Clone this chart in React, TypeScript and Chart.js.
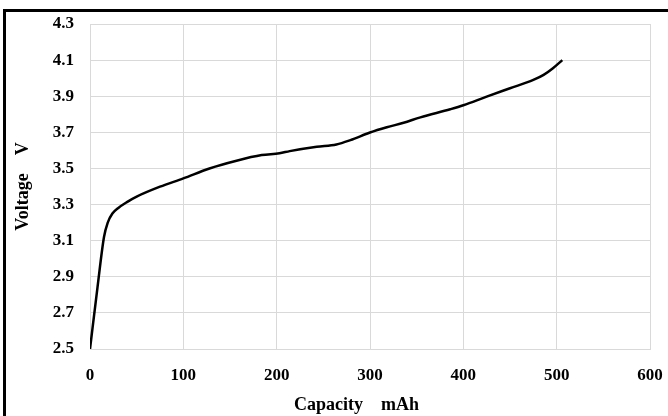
import React, { useEffect, useRef } from "react";
import { Chart, registerables } from "chart.js";

Chart.register(...registerables);

const capacity = [0, 8, 15, 19, 24, 30, 40, 50, 75, 100, 128, 157, 184, 203, 214, 243, 264, 279, 300, 318, 336, 354, 386, 400, 425, 450, 475, 486, 496, 506];
const voltage = [2.5, 2.84, 3.12, 3.2, 3.25, 3.28, 3.315, 3.344, 3.399, 3.445, 3.5, 3.543, 3.574, 3.584, 3.596, 3.62, 3.633, 3.657, 3.699, 3.728, 3.753, 3.783, 3.828, 3.85, 3.898, 3.944, 3.99, 4.018, 4.055, 4.1];
const xTickValues = [0, 100, 200, 300, 400, 500, 600];
const yTickValues = [2.5, 2.7, 2.9, 3.1, 3.3, 3.5, 3.7, 3.9, 4.1, 4.3];
const xTitle = "Capacity    mAh      ";
const yTitle = "Voltage    V";

const FONT = "'Liberation Serif', 'Times New Roman', serif";

const zeroPad = (s: any) => {
  s.paddingLeft = 0;
  s.paddingRight = 0;
  s.paddingTop = 0;
  s.paddingBottom = 0;
};

export default function App() {
  const ref = useRef<HTMLCanvasElement | null>(null);
  useEffect(() => {
    if (!ref.current) return;
    const chart = new Chart(ref.current, {
      type: "line",
      data: {
        datasets: [
          {
            data: capacity.map((c, i) => ({ x: c, y: voltage[i] })),
            borderColor: "#000",
            borderWidth: 2.5,
            pointRadius: 0,
            cubicInterpolationMode: "monotone",
            fill: false,
          },
        ],
      },
      options: {
        animation: false,
        responsive: false,
        devicePixelRatio: 1,
        layout: { padding: { left: 0, right: 18, top: 24, bottom: 0 } },
        plugins: { legend: { display: false }, tooltip: { enabled: false } },
        scales: {
          x: {
            type: "linear",
            min: 0,
            max: 600,
            afterBuildTicks: (s: any) => {
              s.ticks = xTickValues.map((v) => ({ value: v }));
            },
            afterFit: (s: any) => {
              s.height = 67;
              zeroPad(s);
            },
            grid: { color: "#d9d9d9", drawTicks: false, lineWidth: 1 },
            border: { color: "#d9d9d9" },
            ticks: {
              padding: 16,
              color: "#000",
              font: { family: FONT, size: 17, weight: "bold" },
              callback: (v: any) => String(v),
            },
            title: {
              display: true,
              text: xTitle,
              color: "#000",
              font: { family: FONT, size: 18, weight: "bold", lineHeight: 1.2 },
              padding: { top: 0, bottom: 0 },
            },
          },
          y: {
            type: "linear",
            min: 2.5,
            max: 4.3,
            afterBuildTicks: (s: any) => {
              s.ticks = yTickValues.map((v) => ({ value: v }));
            },
            afterFit: (s: any) => {
              s.width = 90;
              zeroPad(s);
            },
            grid: { color: "#d9d9d9", drawTicks: false, lineWidth: 1 },
            border: { color: "#d9d9d9" },
            ticks: {
              padding: 16,
              color: "#000",
              font: { family: FONT, size: 17, weight: "bold" },
              callback: (v: any) => Number(v).toFixed(1),
            },
            title: {
              display: true,
              text: yTitle,
              color: "#000",
              font: { family: FONT, size: 18, weight: "bold", lineHeight: 1.2 },
              padding: { top: 13, bottom: 0 },
            },
          },
        },
      },
    });
    return () => chart.destroy();
  }, []);

  return (
    <div style={{ position: "absolute", left: 0, top: 0, width: 668, height: 416, background: "#fff", overflow: "hidden" }}>
      <canvas ref={ref} width={668} height={416} style={{ position: "absolute", left: 0, top: 0, width: 668, height: 416 }} />
      <div
        style={{
          position: "absolute",
          left: 3,
          top: 9,
          width: 665,
          height: 407,
          borderLeft: "3px solid #000",
          borderTop: "3px solid #000",
          boxSizing: "border-box",
          pointerEvents: "none",
        }}
      />
    </div>
  );
}
